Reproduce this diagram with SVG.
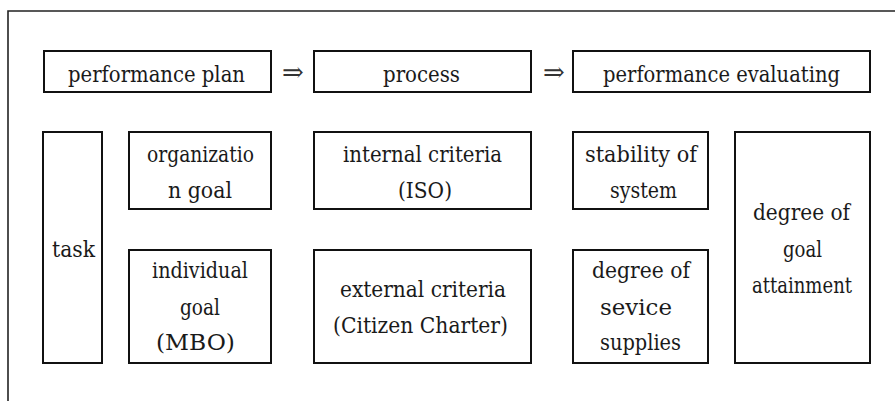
<svg xmlns="http://www.w3.org/2000/svg" width="895" height="401" viewBox="0 0 895 401">
  <style>
    .box { fill: #fff; stroke: #111; stroke-width: 2; }
    .frame { stroke: #222; stroke-width: 1.6; fill: none; }
  </style>
  <rect width="895" height="401" fill="#fff"/>

  <!-- outer frame -->
  <path class="frame" d="M8 401 V11 H895"/>

  <g font-family="DejaVu Serif, serif" font-size="23" fill="#1a1a1a">
  <!-- header row -->
  <g id="performance-plan">
    <rect class="box" x="44" y="51" width="227" height="41"/>
    <text x="68" y="82" textLength="177" lengthAdjust="spacingAndGlyphs">performance  plan</text>
  </g>
  <g id="process">
    <rect class="box" x="314" y="51" width="217" height="41"/>
    <text x="383" y="82" textLength="77" lengthAdjust="spacingAndGlyphs">process</text>
  </g>
  <g id="performance-evaluating">
    <rect class="box" x="573" y="51" width="297" height="41"/>
    <text x="603" y="82" textLength="237" lengthAdjust="spacingAndGlyphs">performance  evaluating</text>
  </g>

  <g id="connectors" font-size="26" fill="#333">
    <text x="293" y="81" text-anchor="middle">⇒</text>
    <text x="554" y="81" text-anchor="middle">⇒</text>
  </g>

  <!-- plan column -->
  <g id="task">
    <rect class="box" x="43" y="132" width="59" height="231"/>
    <text x="52" y="257" textLength="43" lengthAdjust="spacingAndGlyphs">task</text>
  </g>
  <g id="organization-goal">
    <rect class="box" x="129" y="132" width="142" height="77"/>
    <text x="147" y="162" textLength="107" lengthAdjust="spacingAndGlyphs">organizatio</text>
    <text x="168" y="198" textLength="64" lengthAdjust="spacingAndGlyphs">n  goal</text>
  </g>
  <g id="individual-goal">
    <rect class="box" x="129" y="250" width="142" height="113"/>
    <text x="152" y="278" textLength="96" lengthAdjust="spacingAndGlyphs">individual</text>
    <text x="180" y="315" textLength="40" lengthAdjust="spacingAndGlyphs">goal</text>
    <text x="156" y="350" textLength="79" lengthAdjust="spacingAndGlyphs">(MBO)</text>
  </g>

  <!-- process column -->
  <g id="internal-criteria">
    <rect class="box" x="314" y="132" width="217" height="77"/>
    <text x="343" y="162" textLength="159" lengthAdjust="spacingAndGlyphs">internal  criteria</text>
    <text x="398" y="198" textLength="54" lengthAdjust="spacingAndGlyphs">(ISO)</text>
  </g>
  <g id="external-criteria">
    <rect class="box" x="314" y="250" width="217" height="113"/>
    <text x="340" y="297" textLength="166" lengthAdjust="spacingAndGlyphs">external  criteria</text>
    <text x="333" y="333" textLength="175" lengthAdjust="spacingAndGlyphs">(Citizen  Charter)</text>
  </g>

  <!-- evaluation column -->
  <g id="stability-of-system">
    <rect class="box" x="573" y="132" width="135" height="77"/>
    <text x="585" y="162" textLength="112" lengthAdjust="spacingAndGlyphs">stability  of</text>
    <text x="610" y="198" textLength="67" lengthAdjust="spacingAndGlyphs">system</text>
  </g>
  <g id="service-supplies">
    <rect class="box" x="573" y="250" width="135" height="113"/>
    <text x="592" y="278" textLength="98" lengthAdjust="spacingAndGlyphs">degree  of</text>
    <text x="600" y="315" textLength="72" lengthAdjust="spacingAndGlyphs">sevice</text>
    <text x="600" y="350" textLength="81" lengthAdjust="spacingAndGlyphs">supplies</text>
  </g>
  <g id="goal-attainment">
    <rect class="box" x="735" y="132" width="135" height="231"/>
    <text x="753" y="220" textLength="97" lengthAdjust="spacingAndGlyphs">degree  of</text>
    <text x="783" y="257" textLength="39" lengthAdjust="spacingAndGlyphs">goal</text>
    <text x="752" y="293" textLength="100" lengthAdjust="spacingAndGlyphs">attainment</text>
  </g>
  </g>
</svg>
